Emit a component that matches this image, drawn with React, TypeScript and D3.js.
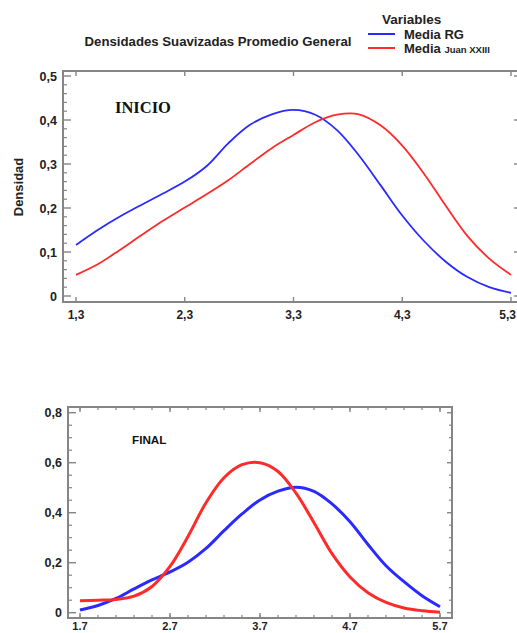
import React from 'react';
import { scaleLinear, line, curveCatmullRom, range } from 'd3';

// top panel (INICIO)
const topX = [1.3, 1.5, 1.7, 1.9, 2.1, 2.3, 2.5, 2.7, 2.9, 3.1, 3.3, 3.5, 3.7, 3.9, 4.1, 4.3, 4.5, 4.7, 4.9, 5.1, 5.3];
const topRG = [0.116, 0.15, 0.18, 0.207, 0.233, 0.26, 0.295, 0.347, 0.389, 0.413, 0.423, 0.412, 0.377, 0.32, 0.252, 0.183, 0.125, 0.078, 0.043, 0.02, 0.007];
const topJuan = [0.048, 0.072, 0.104, 0.138, 0.171, 0.201, 0.231, 0.263, 0.3, 0.336, 0.366, 0.395, 0.412, 0.413, 0.388, 0.342, 0.278, 0.205, 0.136, 0.085, 0.048];
const topXTicks = [1.3, 2.3, 3.3, 4.3, 5.3];
const topYTicks = [0, 0.1, 0.2, 0.3, 0.4, 0.5];

// bottom panel (FINAL)
const botX = [1.7, 1.9, 2.1, 2.3, 2.5, 2.7, 2.9, 3.1, 3.3, 3.5, 3.7, 3.9, 4.1, 4.3, 4.5, 4.7, 4.9, 5.1, 5.3, 5.5, 5.7];
const botRG = [0.011, 0.029, 0.057, 0.095, 0.131, 0.163, 0.202, 0.257, 0.328, 0.395, 0.451, 0.486, 0.502, 0.485, 0.435, 0.364, 0.273, 0.188, 0.124, 0.068, 0.024];
const botJuan = [0.048, 0.05, 0.053, 0.066, 0.105, 0.185, 0.305, 0.44, 0.54, 0.592, 0.6, 0.565, 0.478, 0.36, 0.236, 0.143, 0.08, 0.041, 0.019, 0.008, 0.002];
const botXTicks = [1.7, 2.7, 3.7, 4.7, 5.7];
const botYTicks = [0, 0.2, 0.4, 0.6, 0.8];

const BLUE = '#2a2aff';
const RED = '#ff2a2a';
const FRAME = '#858585';
const SANS = 'Liberation Sans, Arial, sans-serif';

const fmtComma = (v: number) => (v === 0 ? '0' : v.toFixed(1).replace('.', ','));
const fmtDot = (v: number) => v.toFixed(1);

function Panel(props: any) {
  const { x, y, xs, rg, juan, xTicks, yTicks, xMinor, yMinor, xFmt, yFmt, lw, labelY, labelSize } = props;
  const mk = line<number>()
    .x((_, i) => x(xs[i]))
    .y((d) => y(d))
    .curve(curveCatmullRom.alpha(0.5));
  const [x0, x1] = props.frameX;
  const [y0, y1] = props.frameY;
  return (
    <g>
      <path d={mk(rg) || ''} fill="none" stroke={BLUE} strokeWidth={lw} />
      <path d={mk(juan) || ''} fill="none" stroke={RED} strokeWidth={lw} />
      <rect x={x0} y={y0} width={x1 - x0} height={y1 - y0} fill="none" stroke={FRAME} strokeWidth={2} />
      {yMinor.map((v: number, i: number) => (
        <line key={'ym' + i} x1={x0} x2={x0 + 4} y1={y(v)} y2={y(v)} stroke={FRAME} strokeWidth={1.2} />
      ))}
      {yTicks.map((v: number, i: number) => (
        <g key={'y' + i}>
          <line x1={x0} x2={x0 + 8} y1={y(v)} y2={y(v)} stroke={FRAME} strokeWidth={1.4} />
          <line x1={x1} x2={x1 - 5} y1={y(v)} y2={y(v)} stroke={FRAME} strokeWidth={1.4} />
          <text x={x0 - 6} y={y(v) + 4.5} textAnchor="end" fontFamily={SANS} fontWeight="bold" fontSize={12.5} fill="#222">
            {yFmt(v)}
          </text>
        </g>
      ))}
      {props.rightMinor &&
        yMinor.map((v: number, i: number) => (
          <line key={'rm' + i} x1={x1} x2={x1 - 3} y1={y(v)} y2={y(v)} stroke={FRAME} strokeWidth={1.2} />
        ))}
      {xMinor.map((v: number, i: number) => (
        <g key={'xm' + i}>
          <line x1={x(v)} x2={x(v)} y1={y0} y2={y0 + 3} stroke={FRAME} strokeWidth={1.2} />
          <line x1={x(v)} x2={x(v)} y1={y1} y2={y1 - 3} stroke={FRAME} strokeWidth={1.2} />
        </g>
      ))}
      {xTicks.map((v: number, i: number) => {
        const nearEdge = x(v) + 10 > 517;
        return (
          <g key={'x' + i}>
            <line x1={x(v)} x2={x(v)} y1={y0} y2={y0 + 5} stroke={FRAME} strokeWidth={1.4} />
            <line x1={x(v)} x2={x(v)} y1={y1} y2={y1 - 5} stroke={FRAME} strokeWidth={1.4} />
            <text
              x={nearEdge ? 516 : x(v)}
              y={labelY}
              textAnchor={nearEdge ? 'end' : 'middle'}
              fontFamily={SANS}
              fontWeight="bold"
              fontSize={labelSize}
              fill="#222"
            >
              {xFmt(v)}
            </text>
          </g>
        );
      })}
    </g>
  );
}

export default function App() {
  const topXScale = scaleLinear().domain([1.3, 5.3]).range([76, 511]);
  const topYScale = scaleLinear().domain([0, 0.5]).range([296, 76]);
  const botXScale = scaleLinear().domain([1.7, 5.7]).range([80, 440]);
  const botYScale = scaleLinear().domain([0, 0.8]).range([612.7, 412.7]);

  const topYMinor = range(0, 0.501, 0.02).filter((v) => Math.abs(v * 10 - Math.round(v * 10)) > 1e-6);
  const botYMinor = range(0, 0.801, 0.05).filter((v) => Math.abs(v * 5 - Math.round(v * 5)) > 1e-6);
  const botXMinor = range(1.7, 5.71, 0.2);

  return (
    <div style={{ position: 'absolute', left: 0, top: 0 }}>
      <svg width={517} height={633} style={{ display: 'block', background: '#fff' }}>
        {/* header */}
        <text x={218} y={45.5} textAnchor="middle" fontFamily={SANS} fontWeight="bold" fontSize={13.2} fill="#222">
          Densidades Suavizadas Promedio General
        </text>
        <text x={382} y={24} fontFamily={SANS} fontWeight="bold" fontSize={13.5} fill="#222">
          Variables
        </text>
        <line x1={368} x2={395} y1={34} y2={34} stroke={BLUE} strokeWidth={2} />
        <text x={404} y={38.5} fontFamily={SANS} fontWeight="bold" fontSize={13} fill="#222">
          Media RG
        </text>
        <line x1={368} x2={395} y1={48} y2={48} stroke={RED} strokeWidth={2} />
        <text x={404} y={52.5} fontFamily={SANS} fontWeight="bold" fontSize={13} fill="#222">
          Media <tspan fontSize={9.5}>Juan XXIII</tspan>
        </text>

        {/* top panel */}
        <text
          transform="translate(23,187) rotate(-90)"
          textAnchor="middle"
          fontFamily={SANS}
          fontWeight="bold"
          fontSize={13}
          fill="#222"
        >
          Densidad
        </text>
        <text x={115} y={113} fontFamily="Liberation Serif, Times New Roman, serif" fontWeight="bold" fontSize={16.5} fill="#111">
          INICIO
        </text>
        <Panel
          x={topXScale}
          y={topYScale}
          xs={topX}
          rg={topRG}
          juan={topJuan}
          xTicks={topXTicks}
          yTicks={topYTicks}
          xMinor={[]}
          yMinor={topYMinor}
          xFmt={fmtComma}
          yFmt={fmtComma}
          lw={1.8}
          frameX={[63, 519]}
          frameY={[71, 302]}
          labelY={319}
          labelSize={12}
        />

        {/* bottom panel */}
        <text x={132} y={444} fontFamily={SANS} fontWeight="bold" fontSize={11.7} fill="#111">
          FINAL
        </text>
        <Panel
          x={botXScale}
          y={botYScale}
          xs={botX}
          rg={botRG}
          juan={botJuan}
          xTicks={botXTicks}
          yTicks={botYTicks}
          xMinor={botXMinor}
          yMinor={botYMinor}
          xFmt={fmtDot}
          yFmt={fmtComma}
          lw={3}
          rightMinor
          frameX={[68, 452]}
          frameY={[407, 618]}
          labelY={630}
          labelSize={11}
        />
      </svg>
    </div>
  );
}
